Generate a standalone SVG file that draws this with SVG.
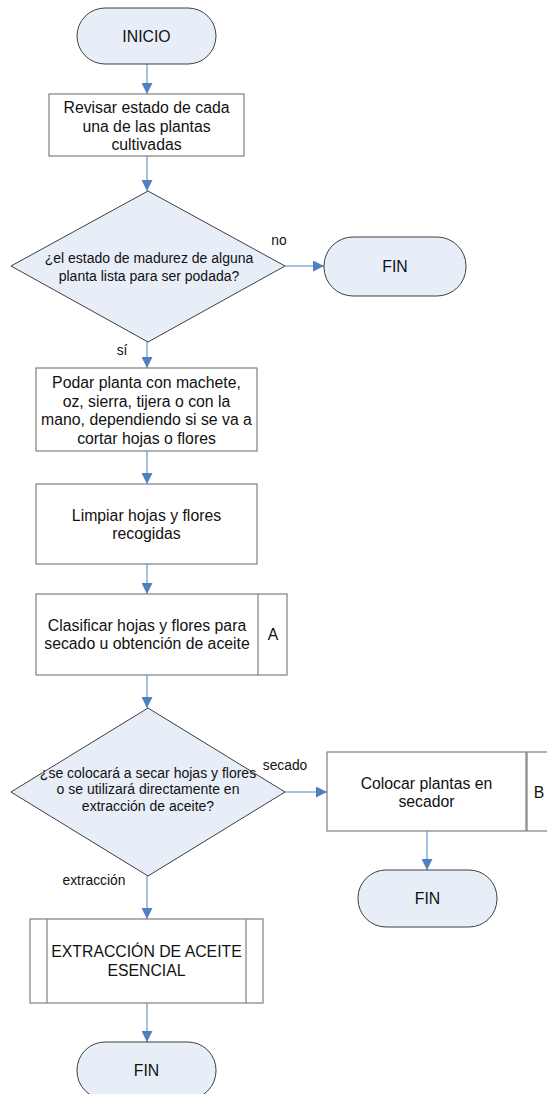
<svg xmlns="http://www.w3.org/2000/svg" width="547" height="1094" viewBox="0 0 547 1094">
  <style>
    .term { fill: #e8eef8; stroke: #3f3f3f; stroke-width: 1; }
    .dec { fill: #e8eef8; stroke: #3f3f3f; stroke-width: 1; }
    .proc { fill: #ffffff; stroke: #7f7f7f; stroke-width: 1.2; }
    .edge { fill: none; stroke: #4f81bd; stroke-width: 1; }
    text { font-family: "Liberation Sans", Arial, sans-serif; fill: #111111; text-anchor: middle; dominant-baseline: central; }
    .t { font-size: 15.8px; }
    .d { font-size: 14px; }
    .lbl { font-size: 13.8px; }
  </style>
  <defs>
    <marker id="arrow" markerUnits="userSpaceOnUse" markerWidth="11" markerHeight="11" viewBox="0 0 10 10" refX="10" refY="5" orient="auto">
      <path d="M0,0 L10,5 L0,10 Z" fill="#4f81bd"/>
    </marker>
  </defs>

  <rect width="547" height="1094" fill="#ffffff"/>

  <!-- connectors -->
  <g id="connectors">
    <line class="edge" x1="147" y1="64" x2="147" y2="94" marker-end="url(#arrow)"/>
    <line class="edge" x1="147" y1="156" x2="147" y2="191" marker-end="url(#arrow)"/>
    <line class="edge" x1="285" y1="266" x2="324" y2="266" marker-end="url(#arrow)"/>
    <line class="edge" x1="147" y1="342" x2="147" y2="368" marker-end="url(#arrow)"/>
    <line class="edge" x1="147" y1="451" x2="147" y2="484" marker-end="url(#arrow)"/>
    <line class="edge" x1="147" y1="564" x2="147" y2="594" marker-end="url(#arrow)"/>
    <line class="edge" x1="147" y1="675" x2="147" y2="708" marker-end="url(#arrow)"/>
    <line class="edge" x1="285" y1="792" x2="327" y2="792" marker-end="url(#arrow)"/>
    <line class="edge" x1="427" y1="831" x2="427" y2="870" marker-end="url(#arrow)"/>
    <line class="edge" x1="147" y1="876" x2="147" y2="919" marker-end="url(#arrow)"/>
    <line class="edge" x1="147" y1="1003" x2="147" y2="1042" marker-end="url(#arrow)"/>
    <text class="lbl" x="279" y="240">no</text>
    <text class="lbl" x="122" y="350">sí</text>
    <text class="lbl" x="285" y="765">secado</text>
    <text class="lbl" x="94" y="880">extracción</text>
  </g>

  <!-- start -->
  <g id="inicio">
    <rect class="term" x="77" y="8" width="139" height="56" rx="28" ry="28"/>
    <text class="t" x="146.5" y="36">INICIO</text>
  </g>

  <g id="revisar">
    <rect class="proc" x="49" y="94" width="195" height="62"/>
    <text class="t" x="146.5" y="107">Revisar estado de cada</text>
    <text class="t" x="146.5" y="126">una de las plantas</text>
    <text class="t" x="146.5" y="144">cultivadas</text>
  </g>

  <g id="decision-madurez">
    <polygon class="dec" points="148,191 285,266 148,342 11,266"/>
    <text class="d" x="149" y="258">¿el estado de madurez de alguna</text>
    <text class="d" x="149" y="276">planta lista para ser podada?</text>
  </g>

  <g id="fin-1">
    <rect class="term" x="324" y="237" width="142" height="59" rx="29" ry="29"/>
    <text class="t" x="395" y="266">FIN</text>
  </g>

  <g id="podar">
    <rect class="proc" x="36" y="368" width="221" height="83"/>
    <text class="t" x="146.5" y="382">Podar planta con machete,</text>
    <text class="t" x="146.5" y="401">oz, sierra, tijera o con la</text>
    <text class="t" x="146.5" y="419">mano, dependiendo si se va a</text>
    <text class="t" x="146.5" y="438">cortar hojas o flores</text>
  </g>

  <g id="limpiar">
    <rect class="proc" x="36" y="484" width="221" height="80"/>
    <text class="t" x="146.5" y="515">Limpiar hojas y flores</text>
    <text class="t" x="146.5" y="533">recogidas</text>
  </g>

  <g id="clasificar">
    <rect class="proc" x="36" y="594" width="251" height="81"/>
    <line class="proc" x1="258" y1="594" x2="258" y2="675"/>
    <text class="t" x="147" y="625">Clasificar hojas y flores para</text>
    <text class="t" x="147" y="643">secado u obtención de aceite</text>
    <text class="t" x="273" y="634">A</text>
  </g>

  <g id="decision-uso">
    <polygon class="dec" points="148,708 285,792 148,876 11,792"/>
    <text class="d" x="148" y="773">¿se colocará a secar hojas y flores</text>
    <text class="d" x="148" y="789">o se utilizará directamente en</text>
    <text class="d" x="148" y="806">extracción de aceite?</text>
  </g>

  <g id="colocar">
    <rect class="proc" x="327" y="752" width="199" height="79"/>
    <rect class="proc" x="527" y="752" width="30" height="79"/>
    <text class="t" x="426.5" y="783">Colocar plantas en</text>
    <text class="t" x="426.5" y="801">secador</text>
    <text class="t" x="539" y="792">B</text>
  </g>

  <g id="fin-2">
    <rect class="term" x="358" y="870" width="139" height="57" rx="28" ry="28"/>
    <text class="t" x="427.5" y="898">FIN</text>
  </g>

  <g id="extraccion">
    <rect class="proc" x="30" y="919" width="233" height="84"/>
    <line class="proc" x1="47" y1="919" x2="47" y2="1003"/>
    <line class="proc" x1="246" y1="919" x2="246" y2="1003"/>
    <text class="t" x="146.5" y="951">EXTRACCIÓN DE ACEITE</text>
    <text class="t" x="146.5" y="970">ESENCIAL</text>
  </g>

  <g id="fin-3">
    <rect class="term" x="77" y="1042" width="139" height="57" rx="28" ry="28"/>
    <text class="t" x="146.5" y="1070">FIN</text>
  </g>
</svg>
